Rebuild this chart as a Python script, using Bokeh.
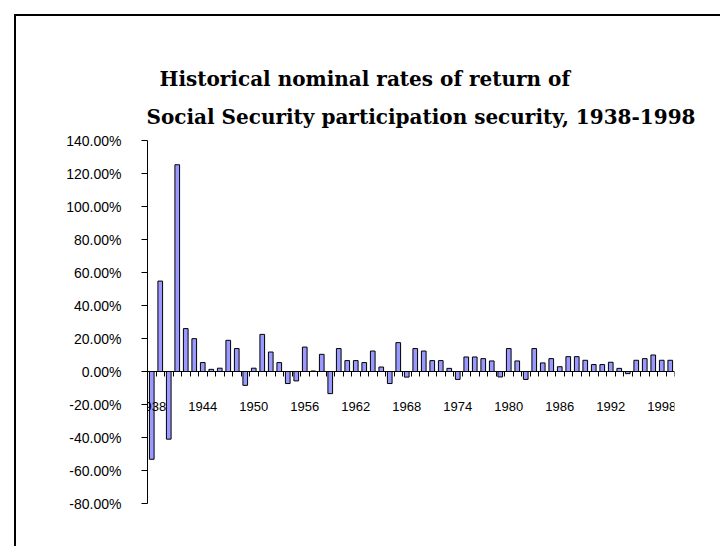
from bokeh.plotting import figure
from bokeh.layouts import column
from bokeh.models import (Range1d, FixedTicker, PrintfTickFormatter, LinearAxis,
                          Title, ColumnDataSource, Div)
from bokeh.embed import file_html
from bokeh.resources import INLINE

# Annual nominal rates of return (percent)
years = list(range(1938, 2000))
returns = [
    -53.2, 54.8, -41.0, 125.3, 26.0, 19.9, 5.4, 1.3, 2.0, 18.9,
    13.9, -8.4, 2.0, 22.5, 11.8, 5.4, -7.3, -5.7, 14.8, 0.3,
    10.4, -13.4, 13.9, 6.6, 6.6, 5.4, 12.4, 2.7, -7.3, 17.5,
    -3.4, 13.9, 12.4, 6.6, 6.6, 1.9, -4.8, 8.8, 8.8, 7.8,
    6.4, -3.3, 13.9, 6.4, -4.8, 13.9, 5.2, 7.8, 2.9, 9.0,
    9.0, 6.8, 4.2, 4.2, 5.6, 1.9, -1.3, 6.8, 7.8, 10.0,
    6.8, 6.8,
]
y_ticks = [-80, -60, -40, -20, 0, 20, 40, 60, 80, 100, 120, 140]
x_label_years = [1938, 1944, 1950, 1956, 1962, 1968, 1974, 1980, 1986, 1992, 1998]
title_lines = [
    "Historical nominal rates of return of",
    "Social Security participation security, 1938-1998",
]

source = ColumnDataSource(data=dict(year=years, ret=returns))

p = figure(
    width=720, height=546,
    output_backend="svg", toolbar_location=None,
    x_range=Range1d(years[0] - 0.5, years[-1] + 0.5),
    y_range=Range1d(y_ticks[0], y_ticks[-1]),
    x_axis_type=None, y_axis_type=None,
    min_border_left=147, min_border_right=46,
    min_border_top=140, min_border_bottom=43,
    background_fill_color="white", border_fill_color="white",
)
p.outline_line_color = None

p.vbar(x="year", top="ret", bottom=0, width=0.55, source=source,
       fill_color="#9999FF", line_color="black", line_width=1)

# value axis
yaxis = LinearAxis(
    ticker=FixedTicker(ticks=y_ticks),
    formatter=PrintfTickFormatter(format="%.2f%%"),
    major_tick_out=6, major_tick_in=0,
    minor_tick_line_color=None,
    axis_line_color="black", axis_line_width=1,
    major_tick_line_color="black",
    major_label_standoff=20,
    major_label_text_font="Liberation Sans",
    major_label_text_font_size="14px",
    major_label_text_color="black",
)
p.add_layout(yaxis, "left")

# category axis drawn along zero: tick marks between the bars
boundaries = [y - 0.5 for y in years] + [years[-1] + 0.5]
tick_axis = LinearAxis(
    ticker=FixedTicker(ticks=boundaries),
    fixed_location=0,
    major_tick_out=5, major_tick_in=0,
    minor_tick_line_color=None,
    axis_line_color="black", axis_line_width=1,
    major_tick_line_color="black",
    major_label_text_font_size="0px",
    major_label_text_color=None,
)
p.add_layout(tick_axis, "below")

# year labels every sixth year
label_axis = LinearAxis(
    ticker=FixedTicker(ticks=x_label_years),
    formatter=PrintfTickFormatter(format="%d"),
    fixed_location=0,
    axis_line_color=None,
    major_tick_line_color=None, major_tick_out=0, major_tick_in=0,
    minor_tick_line_color=None,
    major_label_standoff=30,
    major_label_text_font="Liberation Sans",
    major_label_text_font_size="13px",
    major_label_text_color="black",
)
p.add_layout(label_axis, "below")

p.xgrid.visible = False
p.ygrid.visible = False

# two-line title: the second line sits nearest the plot
title_style = dict(align="left", text_font="DejaVu Serif", text_font_style="bold",
                   text_font_size="20px", text_color="black")
p.add_layout(Title(text=title_lines[1], offset=-1, standoff=24, **title_style), "above")
p.add_layout(Title(text=title_lines[0], offset=12, standoff=0, **title_style), "above")

# chart-area frame: heavy rule along the top and left edges, laid over the figure
frame_rule = Div(text="", width=711, height=537, styles={
    "position": "absolute", "left": "9px", "top": "9px",
    "border-left": "2px solid black", "border-top": "2px solid black",
    "pointer-events": "none",
})

page = column(p, frame_rule)

open("out.html", "w").write(file_html(page, INLINE))
